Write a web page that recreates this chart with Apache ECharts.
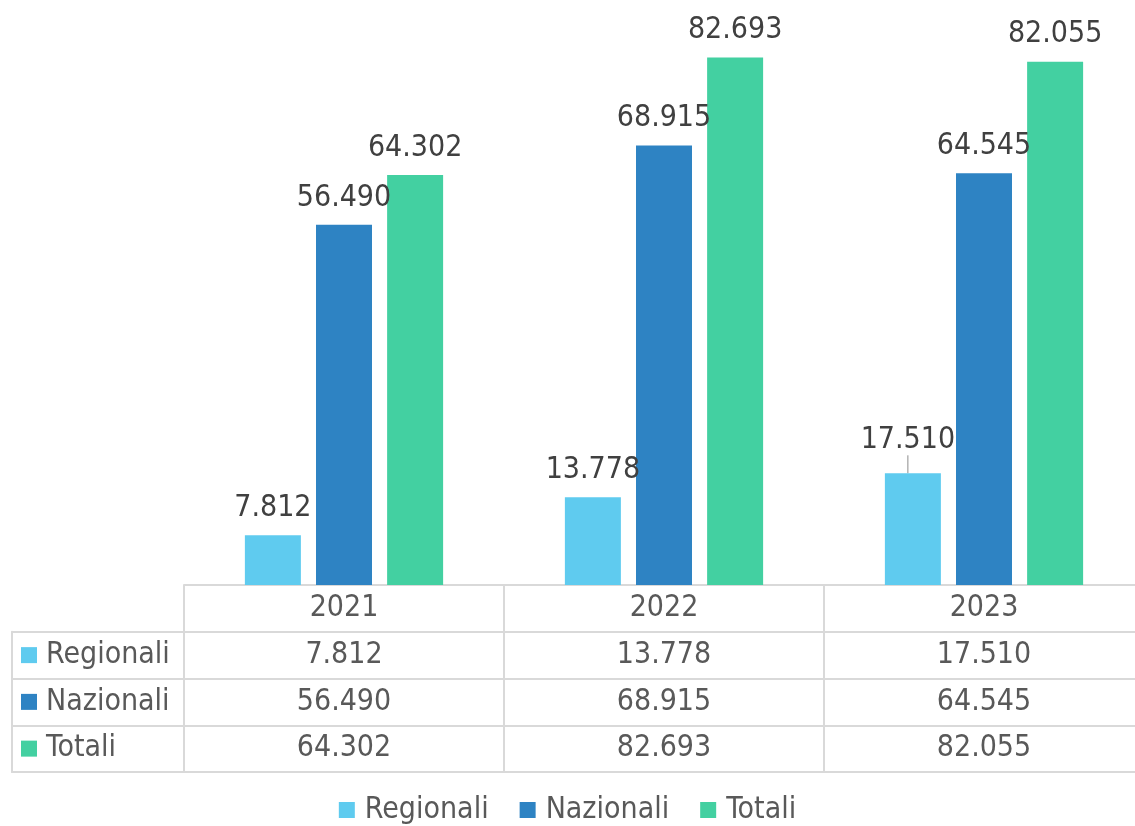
<!DOCTYPE html>
<html>
<head>
<meta charset="utf-8">
<script src="https://cdn.jsdelivr.net/npm/echarts@6/dist/echarts.min.js"></script>
<style>
  html, body { margin: 0; padding: 0; background: #fff; }
  #chart { width: 1135px; height: 826px; }
</style>
</head>
<body>
<div id="chart"></div>
<script>
const years = ['2021', '2022', '2023'];
const seriesNames = ['Regionali', 'Nazionali', 'Totali'];
const regionali = [7.812, 13.778, 17.510];
const nazionali = [56.490, 68.915, 64.545];
const totali = [64.302, 82.693, 82.055];

const colors = ['#5FCBEF', '#2E83C3', '#43D0A1'];
const font = "'DejaVu Sans Condensed', 'DejaVu Sans', sans-serif";
const lineColor = '#D9D9D9';

const fmt = v => v.toFixed(3);
const values = [regionali, nazionali, totali];

// table cells: header row with years, then one row per series
const tableCells = [];
years.forEach((y, i) => {
  tableCells.push([y, '', y]);
  seriesNames.forEach((name, s) => tableCells.push([y, name, fmt(values[s][i])]));
});

const chart = echarts.init(document.getElementById('chart'));

const barSeries = seriesNames.map((name, s) => ({
  name,
  type: 'bar',
  xAxisIndex: 0,
  yAxisIndex: 0,
  barWidth: 56,
  barGap: '27%',
  itemStyle: { color: colors[s] },
  label: {
    show: true,
    position: 'top',
    distance: 12,
    color: '#404040',
    fontFamily: font,
    fontSize: 30,
    formatter: p => fmt(p.value)
  },
  labelLine: { show: false, lineStyle: { color: '#8C8C8C', width: 1 } },
  // the 2023 Regionali label sits a bit left/up, with a leader line
  labelLayout: s === 0 ? (p => (p.dataIndex === 2 ? { dx: -5, dy: -6 } : {})) : undefined,
  data: values[s].map((v, i) =>
    s === 0 && i === 2 ? { value: v, labelLine: { show: true } } : v
  )
}));

const rich = { t: { fontFamily: font, fontSize: 30, color: '#595959', padding: [0, 0, 0, 9] } };
colors.forEach((c, i) => {
  rich['m' + i] = { width: 16, height: 16, backgroundColor: c };
});

const tableLine = { lineStyle: { color: lineColor, width: 2 } };

chart.setOption({
  animation: false,
  textStyle: { fontFamily: font },
  grid: [
    { left: 184, top: 11, width: 960, height: 574, outerBoundsMode: 'none' },
    { left: 184, top: 585, width: 960, height: 187, outerBoundsMode: 'none' },
    { left: 12, top: 585 + 187 / 4, width: 172, height: 187 * 3 / 4, outerBoundsMode: 'none' }
  ],
  xAxis: [
    { gridIndex: 0, type: 'category', data: years, show: false },
    {
      gridIndex: 1, type: 'category', data: years,
      axisLabel: { show: false }, axisTick: { show: false },
      axisLine: tableLine, splitLine: Object.assign({ show: true }, tableLine)
    },
    {
      gridIndex: 2, type: 'category', data: [''],
      axisLabel: { show: false }, axisTick: { show: false },
      axisLine: tableLine, splitLine: Object.assign({ show: true }, tableLine)
    }
  ],
  yAxis: [
    { gridIndex: 0, type: 'value', min: 0, max: 90, show: false },
    {
      gridIndex: 1, type: 'category', inverse: true, data: [''].concat(seriesNames),
      axisLabel: { show: false }, axisTick: { show: false },
      axisLine: tableLine, splitLine: Object.assign({ show: true }, tableLine)
    },
    {
      gridIndex: 2, type: 'category', inverse: true, data: seriesNames,
      axisTick: { show: false },
      axisLine: tableLine, splitLine: Object.assign({ show: true }, tableLine),
      axisLabel: {
        inside: true,
        margin: 9,
        formatter: (v, i) => '{m' + i + '|}{t|' + v + '}',
        rich
      }
    }
  ],
  legend: {
    data: seriesNames,
    left: 'center',
    top: 790,
    icon: 'rect',
    itemWidth: 16,
    itemHeight: 16,
    itemGap: 31,
    textStyle: { fontFamily: font, fontSize: 30, color: '#595959', padding: [0, 0, 0, 5] }
  },
  series: barSeries.concat([{
    type: 'scatter',
    xAxisIndex: 1,
    yAxisIndex: 1,
    symbolSize: 0,
    silent: true,
    itemStyle: { opacity: 1 },
    data: tableCells,
    label: {
      show: true,
      position: 'inside',
      color: '#595959',
      fontFamily: font,
      fontSize: 30,
      formatter: p => p.value[2]
    }
  }])
});
</script>
</body>
</html>
